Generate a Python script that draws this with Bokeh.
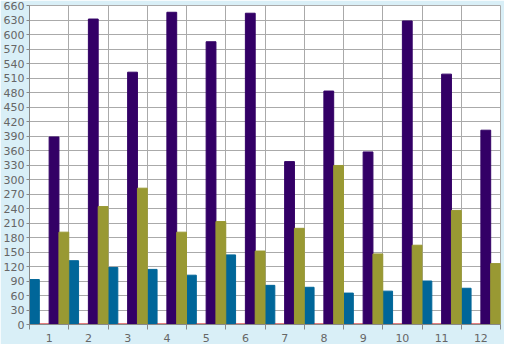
from bokeh.plotting import figure
from bokeh.models import FixedTicker, ColumnDataSource
from bokeh.embed import file_html
from bokeh.resources import INLINE

categories = [1, 2, 3, 4, 5, 6, 7, 8, 9, 10, 11, 12]
series_blue = [93, 132, 118, 114, 102, 144, 81, 77, 65, 69, 90, 75]
series_red = [0, 0, 0, 0, 0, 0, 0, 0, 0, 0, 0, 0]
series_purple = [388, 632, 522, 646, 585, 644, 337, 483, 357, 628, 518, 402]
series_olive = [191, 244, 282, 191, 213, 152, 199, 329, 146, 164, 236, 126]
y_ticks = list(range(0, 661, 30))

colors = ["#006699", "#cc0000", "#330066", "#999933"]
series = [series_blue, series_red, series_purple, series_olive]

p = figure(width=504, height=344, output_backend="svg", toolbar_location=None,
           x_range=(0.5, 12.5), y_range=(0, 660),
           min_border_left=26, min_border_right=4, min_border_top=5, min_border_bottom=20)
p.background_fill_color = "white"
p.border_fill_color = "#d9eff7"
p.outline_line_color = "#aaaaaa"

bw = 0.25
for i, (vals, c) in enumerate(zip(series, colors)):
    off = -0.375 + i * bw
    xs = [cat + off for cat in categories]
    src = ColumnDataSource(dict(x=xs, top=vals,
                                x0=[x - bw / 2 for x in xs], x1=[x + bw / 2 for x in xs]))
    p.vbar(x="x", top="top", bottom=0, width=bw, source=src,
           fill_color=c, line_color=c, line_width=1)
    if max(vals) == 0:
        p.segment(x0="x0", x1="x1", y0="top", y1="top", source=src,
                  line_color=c, line_width=2)

p.xaxis.ticker = FixedTicker(ticks=categories,
                             minor_ticks=[c - 0.5 for c in categories] + [12.5])
p.xaxis.major_tick_out = 0
p.xaxis.major_tick_in = 0
p.xaxis.minor_tick_out = 5
p.xaxis.minor_tick_in = 0
p.yaxis.ticker = FixedTicker(ticks=y_ticks)
p.yaxis.major_tick_out = 3
p.yaxis.major_tick_in = 0
for ax in (p.xaxis, p.yaxis):
    ax.axis_line_color = "#888888"
    ax.major_tick_line_color = "#888888"
    ax.major_label_text_color = "#666666"
    ax.major_label_text_font = "DejaVu Sans"
    ax.major_label_text_font_size = "11px"
p.xaxis.minor_tick_line_color = "#888888"
p.yaxis.minor_tick_line_color = None
p.yaxis.major_label_standoff = 2
p.xaxis.major_label_standoff = 4
p.xgrid.ticker = FixedTicker(ticks=[c - 0.5 for c in categories] + [12.5])
p.xgrid.grid_line_color = "#aaaaaa"
p.ygrid.grid_line_color = "#aaaaaa"
p.ygrid.ticker = FixedTicker(ticks=y_ticks)

open("out.html", "w").write(file_html(p, INLINE))
